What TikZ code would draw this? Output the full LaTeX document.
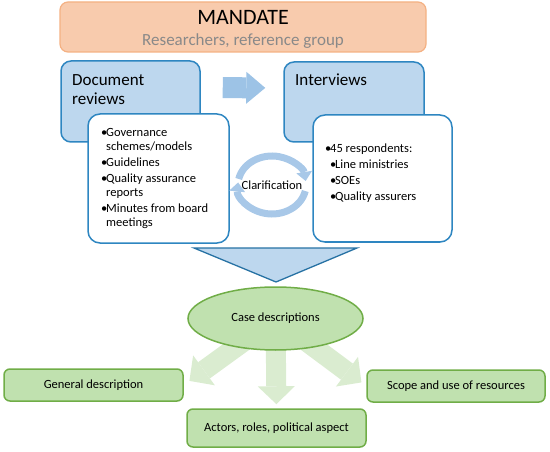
\documentclass[tikz,border=0pt]{standalone}
\usepackage{fontspec}
\setmainfont{Carlito}
\usetikzlibrary{arrows.meta,shapes.geometric,positioning}

\definecolor{mandfill}{RGB}{248,203,173}
\definecolor{mandline}{RGB}{244,177,131}
\definecolor{subgray}{RGB}{137,137,137}
\definecolor{bluefill}{RGB}{189,215,238}
\definecolor{blueline}{RGB}{46,134,193}
\definecolor{bluearrow}{RGB}{157,195,230}
\definecolor{ringblue}{RGB}{168,200,232}
\definecolor{greenfill}{RGB}{192,225,175}
\definecolor{greenline}{RGB}{112,173,71}
\definecolor{fadegreen}{RGB}{218,236,208}

\newcommand\mandfont{\fontsize{22}{26}\selectfont}
\newcommand\headfont{\fontsize{17}{19.5}\selectfont}
\newcommand\itemfont{\fontsize{12.5}{14}\selectfont}
\newcommand\blt{\makebox[5pt][l]{\textbullet}}
\newcommand\bltsp{\hspace*{5pt}}

\begin{document}
\begin{tikzpicture}[x=1pt,y=-1pt,
	every node/.style={inner sep=0pt},
	mandbox/.style={draw=mandline,fill=mandfill,line width=1.2pt,rounded corners=8pt},
	phasebox/.style={draw=blueline,fill=bluefill,line width=1.5pt,rounded corners=10pt},
	listbox/.style={draw=blueline,fill=white,line width=1.5pt,rounded corners=12pt},
	outbox/.style={draw=greenline,fill=greenfill,line width=1.5pt,rounded corners=6pt,font=\itemfont},
	blockarrow/.style={draw=bluearrow,line width=21pt,-{Triangle[width=32pt,length=19pt,line width=0pt]}},
	ringarrow/.style={draw=ringblue,line width=7pt,-{Triangle[width=16pt,length=9pt,line width=0pt]}},
	fadearrow/.style={draw=fadegreen,line width=20pt,-{Triangle[width=37pt,length=18pt,line width=0pt]}}]

	\useasboundingbox (0,0) rectangle (550,452);

	% mandate
	\node[mandbox,minimum width=366,minimum height=50] (mand) at (243,27) {};
	\node[anchor=base,font=\mandfont] (mandt) at (243,25) {MANDATE};
	\node[anchor=base,font=\headfont,text=subgray] (mands) at (243,46) {Researchers, reference group};

	% the two sources
	\node[phasebox,minimum width=139,minimum height=81] (docs) at (130.5,101.5) {};
	\node[phasebox,minimum width=140,minimum height=80] (intv) at (354,102) {};
	\node[anchor=north west,align=left,font=\headfont] (docst) at (72,74) {Document\\reviews};
	\node[anchor=north west,align=left,font=\headfont] (intvt) at (295,74) {Interviews};

	\draw[blockarrow,shorten <=22pt,shorten >=18pt] ([yshift=14pt]docs.east) -- ([yshift=14pt]intv.west);

	\node[listbox,minimum width=141,minimum height=129] (docl) at (158.5,178.5) {};
	\node[listbox,minimum width=139,minimum height=127] (intvl) at (382.5,178.5) {};
	\node[anchor=north west,align=left,font=\itemfont] (docli) at (101,128.5) {%
		\blt Governance\\ \bltsp schemes/models\\[2pt]
		\blt Guidelines\\[2pt]
		\blt Quality assurance\\ \bltsp reports\\[2pt]
		\blt Minutes from board\\ \bltsp meetings};
	\node[anchor=north west,align=left,font=\itemfont] (intvli) at (325,144) {%
		\blt 45 respondents:\\[2pt]
		\bltsp\blt Line ministries\\[2pt]
		\bltsp\blt SOEs\\[2pt]
		\bltsp\blt Quality assurers};

	% clarification loop
	\node[font=\itemfont] (clar) at (272,185) {Clarification};
	\draw[ringarrow] ([shift={(-168:34 and 29)}]clar.center) arc[start angle=-168,end angle=-8,x radius=34,y radius=29];
	\draw[ringarrow] ([shift={(12:34 and 29)}]clar.center) arc[start angle=12,end angle=185,x radius=34,y radius=29];

	% merge
	\draw[fill=bluefill,draw=blueline!85!black,line width=1.3pt] (194,248) -- (357,248) -- (276,282) -- cycle;

	% results
	\node[outbox,minimum width=179,minimum height=32] (gen) at (93.5,385) {General description};
	\node[outbox,minimum width=179,minimum height=38] (act) at (276.5,428) {Actors, roles, political aspect};
	\node[outbox,minimum width=178,minimum height=32] (scope) at (456,386) {Scope and use of resources};

	\coordinate (ellc) at (275.5,318.5);
	\draw[fadearrow,shorten >=7pt] (ellc) -- (gen.east);
	\draw[fadearrow,shorten >=4pt] (ellc) -- (act.north);
	\draw[fadearrow,shorten >=6pt] (ellc) -- (scope.west);

	\node[ellipse,draw=greenline,fill=greenfill,line width=1.5pt,minimum width=175,minimum height=63,font=\itemfont] (ell) at (ellc) {Case descriptions};

\end{tikzpicture}
\end{document}
